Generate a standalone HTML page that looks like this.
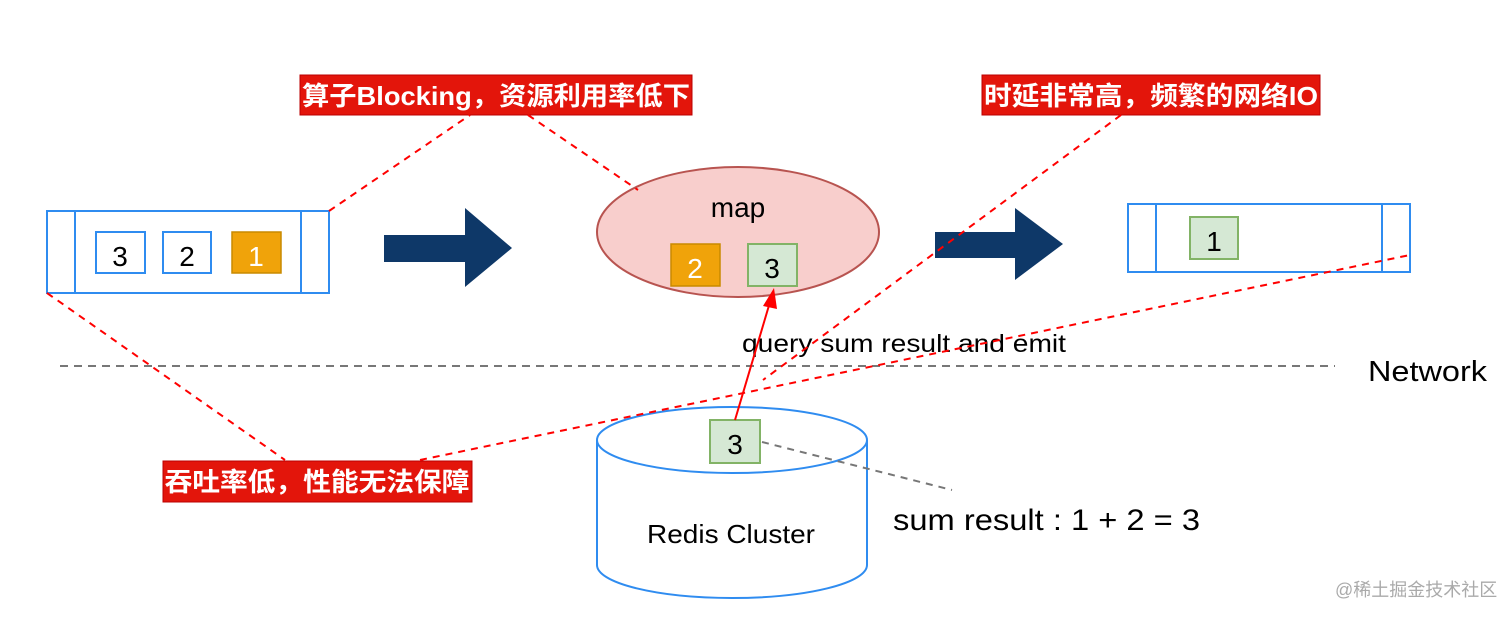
<!DOCTYPE html>
<html><head><meta charset="utf-8"><style>
html,body{margin:0;padding:0;background:#fff;}
svg{display:block;}
</style></head><body>
<svg width="1512" height="618" viewBox="0 0 1512 618" xmlns="http://www.w3.org/2000/svg" font-family="'Liberation Sans','Noto Sans CJK SC',sans-serif">
<rect width="1512" height="618" fill="#fff"/>
<!-- labels -->
<rect x="300" y="75" width="392" height="40" fill="#e3150b" stroke="#b00" stroke-width="1"/>
<text x="496" y="105" font-size="26" font-weight="bold" fill="#fff" text-anchor="middle" textLength="388" lengthAdjust="spacingAndGlyphs">算子Blocking，资源利用率低下</text>
<rect x="982" y="75" width="338" height="40" fill="#e3150b" stroke="#b00" stroke-width="1"/>
<text x="1151" y="105" font-size="26" font-weight="bold" fill="#fff" text-anchor="middle" textLength="334" lengthAdjust="spacingAndGlyphs">时延非常高，频繁的网络IO</text>
<rect x="163" y="461" width="309" height="41" fill="#e3150b" stroke="#b00" stroke-width="1"/>
<text x="317" y="491" font-size="26" font-weight="bold" fill="#fff" text-anchor="middle" textLength="305" lengthAdjust="spacingAndGlyphs">吞吐率低，性能无法保障</text>

<!-- left queue -->
<rect x="47" y="211" width="282" height="82" fill="#fff" stroke="#2f8cf0" stroke-width="2"/>
<line x1="75" y1="211" x2="75" y2="293" stroke="#2f8cf0" stroke-width="2"/>
<line x1="301" y1="211" x2="301" y2="293" stroke="#2f8cf0" stroke-width="2"/>
<rect x="96" y="232" width="49" height="41" fill="#fff" stroke="#2f8cf0" stroke-width="2"/>
<text x="120" y="266" font-size="28" text-anchor="middle">3</text>
<rect x="163" y="232" width="48" height="41" fill="#fff" stroke="#2f8cf0" stroke-width="2"/>
<text x="187" y="266" font-size="28" text-anchor="middle">2</text>
<rect x="232" y="232" width="49" height="41" fill="#f0a30a" stroke="#c98a00" stroke-width="1.5"/>
<text x="256" y="266" font-size="28" fill="#fff" text-anchor="middle">1</text>

<!-- arrows -->
<polygon points="384,235 465,235 465,208 512,248 465,287 465,262 384,262" fill="#0e3868"/>
<polygon points="935,232 1015,232 1015,208 1063,244 1015,280 1015,258 935,258" fill="#0e3868"/>

<!-- map ellipse -->
<ellipse cx="738" cy="232" rx="141" ry="65" fill="#f8cecc" stroke="#b85450" stroke-width="2"/>
<text x="738" y="217" font-size="28" text-anchor="middle">map</text>
<rect x="671" y="244" width="49" height="42" fill="#f0a30a" stroke="#c98a00" stroke-width="1.5"/>
<text x="695" y="278" font-size="28" fill="#fff" text-anchor="middle">2</text>
<rect x="748" y="244" width="49" height="42" fill="#d5e8d4" stroke="#82b366" stroke-width="2"/>
<text x="772" y="278" font-size="28" text-anchor="middle">3</text>

<!-- right queue -->
<rect x="1128" y="204" width="282" height="68" fill="#fff" stroke="#2f8cf0" stroke-width="2"/>
<line x1="1156" y1="204" x2="1156" y2="272" stroke="#2f8cf0" stroke-width="2"/>
<line x1="1382" y1="204" x2="1382" y2="272" stroke="#2f8cf0" stroke-width="2"/>
<rect x="1190" y="217" width="48" height="42" fill="#d5e8d4" stroke="#82b366" stroke-width="2"/>
<text x="1214" y="251" font-size="28" text-anchor="middle">1</text>

<!-- network line -->
<line x1="60" y1="366" x2="1335" y2="366" stroke="#777" stroke-width="2" stroke-dasharray="8,6"/>
<text x="1368" y="381" font-size="29" textLength="119" lengthAdjust="spacingAndGlyphs">Network</text>
<text x="742" y="352" font-size="25" textLength="324" lengthAdjust="spacingAndGlyphs">query sum result and emit</text>

<!-- cylinder -->
<path d="M597,440 L597,565 A135,33 0 0 0 867,565 L867,440" fill="#fff" stroke="#2f8cf0" stroke-width="2"/>
<ellipse cx="732" cy="440" rx="135" ry="33" fill="#fff" stroke="#2f8cf0" stroke-width="2"/>
<text x="647" y="543" font-size="26" textLength="168" lengthAdjust="spacingAndGlyphs">Redis Cluster</text>
<rect x="710" y="420" width="50" height="43" fill="#d5e8d4" stroke="#82b366" stroke-width="2"/>
<text x="735" y="454" font-size="28" text-anchor="middle">3</text>
<line x1="762" y1="442" x2="952" y2="490" stroke="#777" stroke-width="2" stroke-dasharray="7,6"/>
<text x="893" y="530" font-size="30" textLength="307" lengthAdjust="spacingAndGlyphs">sum result : 1 + 2 = 3</text>

<!-- red arrow -->
<line x1="735" y1="420" x2="770" y2="302" stroke="#f00" stroke-width="2"/>
<polygon points="774,288 763,306 777,309" fill="#f00"/>

<!-- red dashed connectors -->
<g stroke="#f00" stroke-width="2" stroke-dasharray="7,6" fill="none">
<line x1="329" y1="211" x2="470" y2="115"/>
<line x1="528" y1="115" x2="638" y2="190"/>
<line x1="1121" y1="115" x2="763" y2="380"/>
<line x1="47" y1="293" x2="285" y2="460"/>
<line x1="420" y1="460" x2="1410" y2="255"/>
</g>

<text x="1335" y="596" font-size="18" fill="#aaa">@稀土掘金技术社区</text>
</svg>
</body></html>
